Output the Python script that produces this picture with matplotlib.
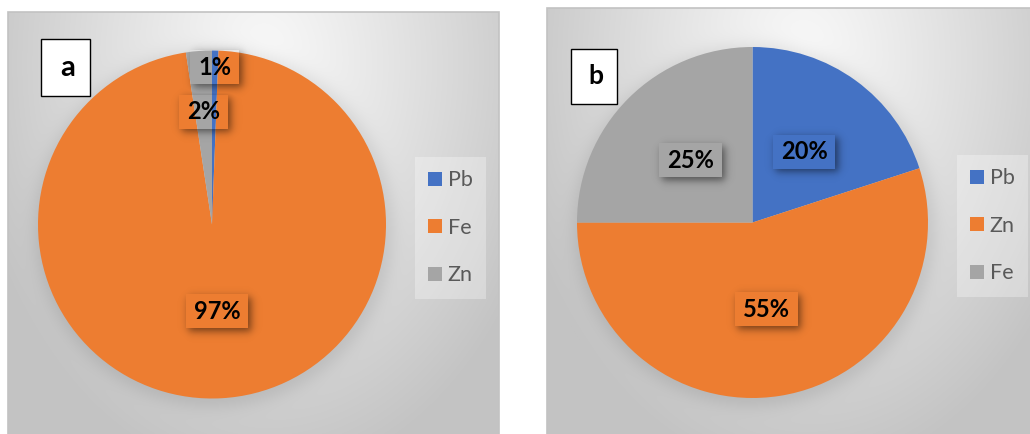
import numpy as np
import matplotlib
matplotlib.use("Agg")
import matplotlib.pyplot as plt
from matplotlib.patches import Rectangle

plt.rcParams["font.family"] = ["Lato", "DejaVu Sans"]

# ---- data -------------------------------------------------------------
labels_a = ["Pb", "Fe", "Zn"]
shares_a = [0.6, 97.0, 2.4]

labels_b = ["Pb", "Zn", "Fe"]
shares_b = [20.0, 55.0, 25.0]

slice_colors = ["#4472C4", "#ED7D31", "#A5A5A5"]

# ---- layout (pixel units, origin top-left) ----------------------------
W, H, DPI = 1030, 434, 100
panels = [
    dict(tag="a", labels=labels_a, shares=shares_a,
         frame=(8, 12, 499, 440), pie=(212.0, 224.5, 174.0),
         tag_box=(41, 39, 90, 96), tag_size=21,
         legend=(415, 157), label_dist=[0.905, 0.5, 0.65]),
    dict(tag="b", labels=labels_b, shares=shares_b,
         frame=(547, 8, 1040, 440), pie=(752.5, 222.5, 175.5),
         tag_box=(571, 49, 617, 104), tag_size=19,
         legend=(957, 155), label_dist=[0.5, 0.5, 0.5]),
]


def fig_rect(x0, y0, x1, y1):
    return [x0 / W, 1 - y1 / H, (x1 - x0) / W, (y1 - y0) / H]


def sig(z):
    return 1.0 / (1.0 + np.exp(-z))


fig = plt.figure(figsize=(W / DPI, H / DPI), dpi=DPI)
fig.patch.set_facecolor("white")

yy, xx = np.mgrid[0:H, 0:W] + 0.5

# ---- background: radial grey gradient per chart area + soft pie shadow --
img = np.ones((H, W, 3))
for p in panels:
    x0, y0, x1, y1 = p["frame"]
    fw, fh = x1 - x0, y1 - y0
    gx, gy = x0 + 0.52 * fw, y0 + 0.12 * fh
    d = np.sqrt(((xx - gx) / 300.0) ** 2 + ((yy - gy) / 420.0) ** 2)
    v = 0.975 - 0.21 * np.clip(d, 0, 1) ** 1.15
    cx, cy, r = p["pie"]
    dd = np.hypot(xx - cx - 2, yy - cy - 3)
    v = v - 0.09 * sig((r + 5 - dd) / 5.0)
    inside = (xx >= x0) & (xx < x1) & (yy >= y0) & (yy < y1)
    img[inside] = v[inside][:, None]

ax_bg = fig.add_axes([0, 0, 1, 1], zorder=0)
ax_bg.imshow(img, extent=(0, W, H, 0), interpolation="bilinear")
ax_bg.set_xlim(0, W)
ax_bg.set_ylim(H, 0)
ax_bg.set_axis_off()

# chart-area borders
for p in panels:
    x0, y0, x1, y1 = p["frame"]
    ax_bg.plot([x0, x0, x1, x1], [y1, y0, y0, y1], color="#c2c2c2", lw=1.2,
               solid_joinstyle="miter")

# panel tags
for p in panels:
    bx0, by0, bx1, by1 = p["tag_box"]
    ax_bg.add_patch(Rectangle((bx0, by0), bx1 - bx0, by1 - by0,
                              facecolor="white", edgecolor="black", lw=1.0))
    ax_bg.text((bx0 + bx1) / 2 + 2, (by0 + by1) / 2, p["tag"],
               ha="center", va="center", fontsize=p["tag_size"],
               fontweight="bold", color="black")

# ---- pies ---------------------------------------------------------------
for p in panels:
    cx, cy, r = p["pie"]
    ax = fig.add_axes(fig_rect(cx - r, cy - r, cx + r, cy + r), zorder=1)
    wedges, _ = ax.pie(p["shares"], colors=slice_colors, startangle=90,
                       counterclock=False, radius=1.0,
                       wedgeprops=dict(linewidth=0))
    ax.set_xlim(-1, 1)
    ax.set_ylim(-1, 1)
    ax.set_aspect("equal")
    ax.patch.set_alpha(0)
    p["ax"], p["wedges"] = ax, wedges

    lx, ly = p["legend"]
    fig.legend(wedges, p["labels"], loc="upper left",
               bbox_to_anchor=(lx / W, 1 - ly / H), borderaxespad=0,
               frameon=True, fancybox=False, facecolor="white",
               framealpha=0.3, edgecolor="none", fontsize=15.5,
               handlelength=0.62, handleheight=0.62, handletextpad=0.28,
               labelspacing=1.28, borderpad=0.62, labelcolor="#595959")

fig.canvas.draw()
renderer = fig.canvas.get_renderer()

# ---- data labels with drop shadow --------------------------------------
ax_fx = fig.add_axes([0, 0, 1, 1], zorder=3)
ax_fx.set_xlim(0, W)
ax_fx.set_ylim(H, 0)
ax_fx.set_axis_off()
ax_fx.patch.set_alpha(0)

shadow = np.zeros((H, W))
for p in panels:
    ax = p["ax"]
    total = sum(p["shares"])
    for w, val, dist in zip(p["wedges"], p["shares"], p["label_dist"]):
        mid = np.deg2rad((w.theta1 + w.theta2) / 2)
        dx, dy = ax.transData.transform((dist * np.cos(mid), dist * np.sin(mid)))
        px, py = dx, H - dy
        t = ax_fx.text(px, py, f"{val / total * 100:.0f}%", ha="center",
                       va="center", fontsize=17, fontweight="bold",
                       color="black", zorder=5)
        ext = t.get_window_extent(renderer)
        bw, bh = ext.width + 16, ext.height + 11
        bx0, bx1 = px - bw / 2, px + bw / 2
        by0, by1 = py - bh / 2, py + bh / 2
        off, soft = 3.0, 2.4
        sx = sig((xx - bx0 - off) / soft) - sig((xx - bx1 - off) / soft)
        sy = sig((yy - by0 - off) / soft) - sig((yy - by1 - off) / soft)
        sh = sx * sy
        sh[(xx >= bx0) & (xx < bx1) & (yy >= by0) & (yy < by1)] = 0
        shadow = np.maximum(shadow, sh)

overlay = np.zeros((H, W, 4))
overlay[..., 3] = 0.5 * shadow
ax_fx.imshow(overlay, extent=(0, W, H, 0), interpolation="bilinear", zorder=1)
ax_fx.set_xlim(0, W)
ax_fx.set_ylim(H, 0)

fig.savefig("out.png", dpi=DPI)
